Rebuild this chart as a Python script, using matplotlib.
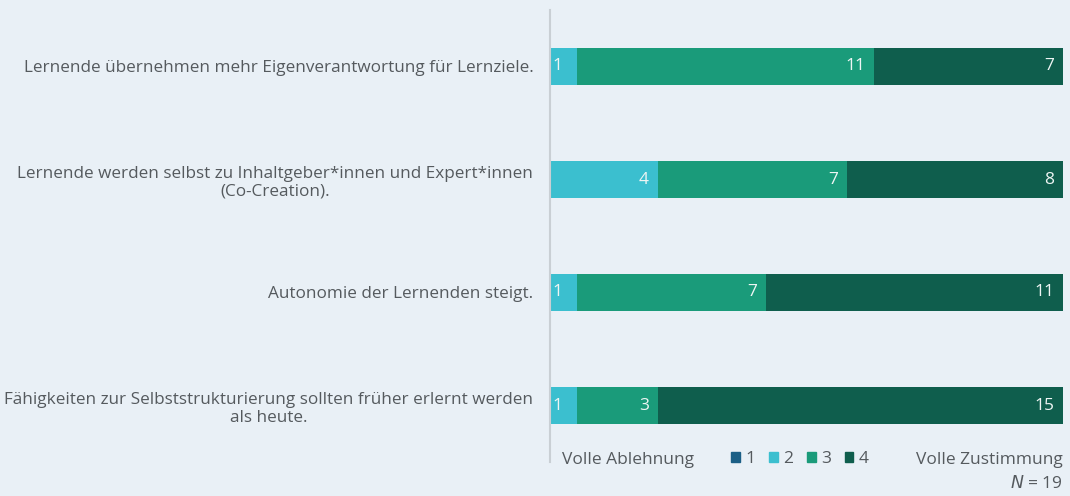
import matplotlib
matplotlib.use("Agg")
import matplotlib.pyplot as plt
from matplotlib.patches import Rectangle
import numpy as np

plt.rcParams["font.family"] = ["Open Sans", "DejaVu Sans"]

STATEMENTS = [
    "Lernende übernehmen mehr Eigenverantwortung für Lernziele.",
    "Lernende werden selbst zu Inhaltgeber*innen und Expert*innen\n(Co-Creation).",
    "Autonomie der Lernenden steigt.",
    "Fähigkeiten zur Selbststrukturierung sollten früher erlernt werden\nals heute.",
]
LEVELS = ["1", "2", "3", "4"]
COUNTS_1 = [0, 0, 0, 0]
COUNTS_2 = [1, 4, 1, 1]
COUNTS_3 = [11, 7, 7, 3]
COUNTS_4 = [7, 8, 11, 15]
N_TOTAL = 19

COLORS = ["#1b5f86", "#3bbfcf", "#1a9b7a", "#0f5e4d"]
BG = "#e9f0f6"
TEXT = "#555a5e"

fig = plt.figure(figsize=(10.70, 4.96), dpi=100, facecolor=BG)
ax = fig.add_axes([550 / 1070, 1 - 462 / 496, 513 / 1070, 452 / 496])
ax.set_facecolor(BG)

series = [COUNTS_1, COUNTS_2, COUNTS_3, COUNTS_4]
y = np.arange(len(STATEMENTS))
left = np.zeros(len(STATEMENTS))
for vals, col in zip(series, COLORS):
    vals = np.array(vals, dtype=float)
    ax.barh(y, vals, left=left, height=0.33, color=col, edgecolor="none")
    for yi, (l, v) in enumerate(zip(left, vals)):
        if v <= 0:
            continue
        if v < 2:
            ax.text(l + 0.1, yi, f"{int(v)}", ha="left", va="center",
                    fontsize=12.5, color="#eef5f4")
        else:
            ax.text(l + v - 0.33, yi, f"{int(v)}", ha="right", va="center",
                    fontsize=12.5, color="#eef5f4")
    left += vals

ax.set_xlim(0, N_TOTAL)
ax.set_ylim(3.5, -0.5)
ax.set_xticks([])
ax.set_yticks(y)
ax.set_yticklabels(STATEMENTS, fontsize=12.3, color=TEXT)
ax.tick_params(axis="y", length=0, pad=12)
for lbl in ax.get_yticklabels():
    lbl.set_multialignment("center")
for s in ["top", "right", "bottom"]:
    ax.spines[s].set_visible(False)
ax.spines["left"].set_color("#c9cfd4")
ax.spines["left"].set_linewidth(1.5)

# legend row
fig.text(562 / 1070, 1 - 460 / 496, "Volle Ablehnung", fontsize=12.5, color=TEXT,
         ha="left", va="center")
fig.text(1063 / 1070, 1 - 460 / 496, "Volle Zustimmung", fontsize=12.5, color=TEXT,
         ha="right", va="center")
fig.text(1063 / 1070, 1 - 484 / 496, "$N$ = 19", fontsize=12.5, color=TEXT,
         ha="right", va="center")
handles = [Rectangle((0, 0), 1, 1, color=c) for c in COLORS]
fig.legend(handles, LEVELS, loc="center", bbox_to_anchor=(800 / 1070, 1 - 459 / 496),
           ncol=4, frameon=False, fontsize=12.5, handlelength=0.5, handleheight=0.5,
           handletextpad=0.3, columnspacing=0.8, labelcolor=TEXT)

fig.savefig("out.png", dpi=100, facecolor=BG)
